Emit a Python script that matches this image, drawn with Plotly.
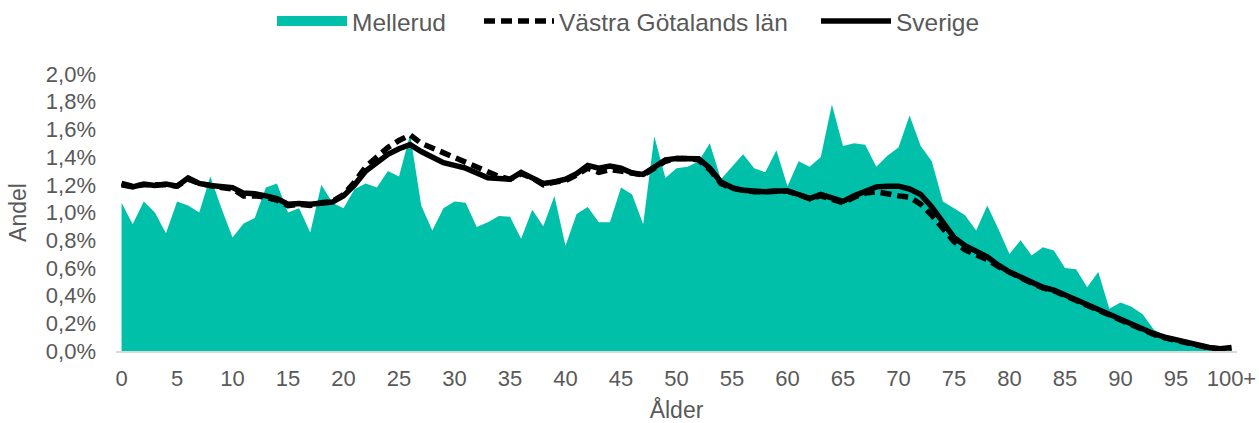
import plotly.graph_objects as go

ages = [str(i) for i in range(100)] + ["100+"]
tick_labels = [str(i) for i in range(0, 100, 5)] + ["100+"]

mellerud = [1.07, 0.915, 1.08, 1.00, 0.85, 1.08, 1.05, 1.00, 1.26, 1.03,
            0.82, 0.92, 0.96, 1.18, 1.21, 1.00, 1.03, 0.855, 1.20, 1.07,
            1.03, 1.17, 1.21, 1.18, 1.30, 1.26, 1.565, 1.05, 0.87, 1.03,
            1.08, 1.07, 0.895, 0.93, 0.975, 0.97, 0.81, 1.02, 0.90, 1.12,
            0.76, 0.99, 1.04, 0.93, 0.93, 1.18, 1.13, 0.915, 1.55, 1.25,
            1.32, 1.33, 1.37, 1.50, 1.24, 1.33, 1.42, 1.32, 1.29, 1.45,
            1.19, 1.37, 1.33, 1.40, 1.78, 1.48, 1.50, 1.49, 1.33, 1.41,
            1.47, 1.70, 1.48, 1.37, 1.08, 1.03, 0.98, 0.87, 1.05, 0.88,
            0.70, 0.80, 0.69, 0.75, 0.725, 0.60, 0.59, 0.46, 0.57, 0.305,
            0.35, 0.32, 0.265, 0.155, 0.11, 0.08, 0.06, 0.03, 0.02, 0.01,
            0.01]

vastra_gotaland = [1.21, 1.19, 1.20, 1.20, 1.20, 1.19, 1.24, 1.21, 1.19, 1.18,
                   1.17, 1.12, 1.12, 1.11, 1.09, 1.05, 1.06, 1.05, 1.07, 1.08,
                   1.13, 1.22, 1.33, 1.40, 1.47, 1.52, 1.56, 1.50, 1.465, 1.43,
                   1.40, 1.37, 1.33, 1.29, 1.26, 1.24, 1.28, 1.25, 1.20, 1.22,
                   1.23, 1.27, 1.32, 1.29, 1.31, 1.30, 1.28, 1.27, 1.32, 1.37,
                   1.39, 1.39, 1.38, 1.31, 1.21, 1.175, 1.16, 1.15, 1.15, 1.155,
                   1.155, 1.13, 1.10, 1.12, 1.10, 1.07, 1.11, 1.14, 1.15, 1.13,
                   1.12, 1.11, 1.06, 0.98, 0.89, 0.79, 0.73, 0.70, 0.66, 0.61,
                   0.565, 0.53, 0.49, 0.455, 0.435, 0.40, 0.365, 0.33, 0.295, 0.255,
                   0.225, 0.185, 0.15, 0.12, 0.095, 0.075, 0.055, 0.035, 0.022, 0.015,
                   0.022]

sverige = [1.20, 1.185, 1.205, 1.195, 1.205, 1.19, 1.25, 1.21, 1.195, 1.185,
           1.18, 1.14, 1.135, 1.12, 1.10, 1.06, 1.065, 1.06, 1.07, 1.075,
           1.12, 1.20, 1.30, 1.36, 1.42, 1.46, 1.49, 1.44, 1.405, 1.36,
           1.34, 1.32, 1.285, 1.25, 1.245, 1.24, 1.29, 1.255, 1.21, 1.22,
           1.24, 1.28, 1.34, 1.32, 1.335, 1.32, 1.285, 1.275, 1.33, 1.38,
           1.39, 1.393, 1.388, 1.32, 1.22, 1.18, 1.16, 1.155, 1.15, 1.155,
           1.155, 1.13, 1.10, 1.13, 1.11, 1.08, 1.12, 1.15, 1.185, 1.19,
           1.19, 1.17, 1.13, 1.04, 0.93, 0.82, 0.76, 0.72, 0.68, 0.62,
           0.57, 0.535, 0.495, 0.46, 0.44, 0.405, 0.37, 0.335, 0.30, 0.26,
           0.23, 0.19, 0.155, 0.125, 0.10, 0.08, 0.06, 0.04, 0.025, 0.017,
           0.025]

TEAL = "#00C0AA"
GREY = "#595959"
FONT = "Liberation Sans, Arial, sans-serif"

fig = go.Figure()
# area (legend entry drawn by a legend-only proxy below)
fig.add_trace(go.Scatter(
    x=ages, y=mellerud, name="Mellerud", mode="lines", legendgroup="m",
    fill="tozeroy", fillcolor=TEAL, line=dict(width=0, color=TEAL),
    showlegend=False,
))
fig.add_trace(go.Scatter(
    x=[None], y=[None], name="Mellerud", mode="lines", legendgroup="m",
    line=dict(color=TEAL, width=12), legendwidth=122,
))
fig.add_trace(go.Scatter(
    x=ages, y=vastra_gotaland, name="Västra Götalands län", mode="lines",
    line=dict(color="black", width=5.5, dash="11px,6px"), legendwidth=252,
))
fig.add_trace(go.Scatter(
    x=ages, y=sverige, name="Sverige", mode="lines",
    line=dict(color="black", width=5.5),
))

fig.update_layout(
    width=1259, height=423,
    margin=dict(l=116, r=22, t=74, b=72, autoexpand=False),
    paper_bgcolor="white", plot_bgcolor="white",
    font=dict(family=FONT, color=GREY, size=22),
    showlegend=True,
    legend=dict(
        orientation="h", x=(272 - 116) / 1121, xanchor="left",
        y=1.272, yanchor="top",
        font=dict(size=24.5, color=GREY), itemwidth=70,
        traceorder="normal",
    ),
    xaxis=dict(
        type="category", categoryorder="array", categoryarray=ages,
        range=[-0.5, 100.5],
        tickmode="array", tickvals=tick_labels, ticktext=tick_labels,
        showgrid=False, showline=True, linecolor="#D9D9D9", linewidth=2,
        ticks="", tickfont=dict(size=22, color=GREY), ticklabelstandoff=7,
        title=dict(text="Ålder", font=dict(size=23, color=GREY), standoff=15),
        zeroline=False,
    ),
    yaxis=dict(
        range=[0, 2.0], tickmode="linear", tick0=0, dtick=0.2,
        tickformat=".1f", ticksuffix="%",
        showgrid=False, showline=False, zeroline=False, ticks="",
        tickfont=dict(size=22, color=GREY), ticklabelstandoff=19,
        title=dict(text="Andel", font=dict(size=23, color=GREY), standoff=12),
    ),
    separators=", ",
)

fig.write_html("out.html", config={"displayModeBar": False},
               post_script="document.body.style.margin='0px';")
